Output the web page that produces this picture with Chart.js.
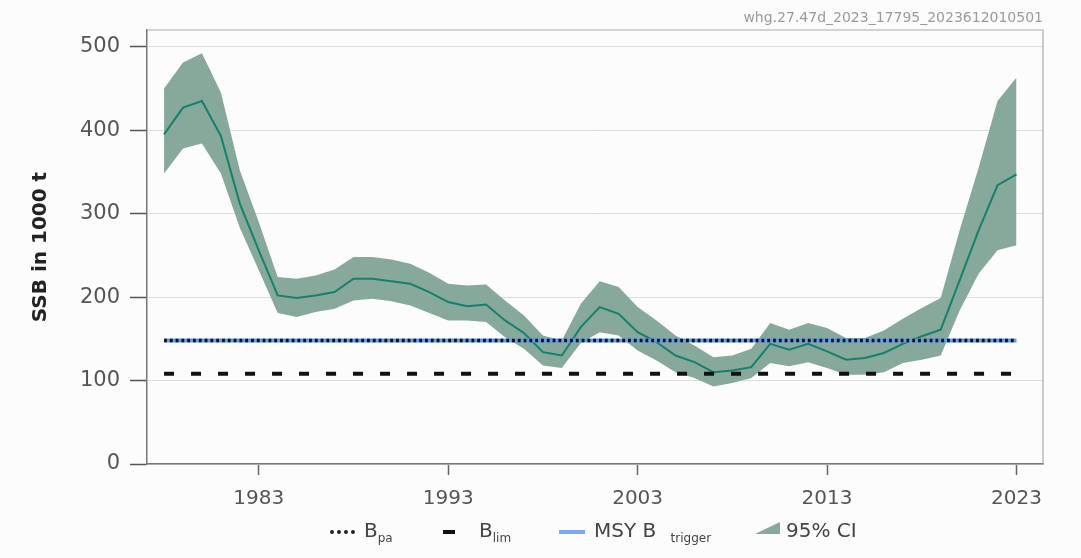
<!DOCTYPE html>
<html>
<head>
<title>SSB whg.27.47d</title>
<script src="https://cdn.jsdelivr.net/npm/chart.js"></script>
<style>
  body { margin: 0; background: #fcfcfc; font-family: "DejaVu Sans", sans-serif; }
  #wrap { position: relative; width: 1081px; height: 558px; }
  #stamp { position: absolute; right: 38px; top: 9px; font-size: 14px; color: #9a9a9a; }
  .lg { position: absolute; top: 518px; font-size: 20px; color: #444; white-space: nowrap; }
  .lg sub { font-size: 12px; vertical-align: -5px; }
  .sw { position: absolute; }
</style>
</head>
<body>
<div id="wrap">
  <canvas id="ssbChart" width="1081" height="558"></canvas>
  <div id="stamp">whg.27.47d_2023_17795_2023612010501</div>
  <!-- legend -->
  <div class="sw" style="left:330px;top:530px;width:25px;border-top:4px dotted #222;"></div>
  <div class="lg" style="left:364px;">B<sub>pa</sub></div>
  <div class="sw" style="left:443px;top:530px;width:12px;height:4px;background:#111;"></div>
  <div class="lg" style="left:479px;">B<sub>lim</sub></div>
  <div class="sw" style="left:559px;top:530px;width:26px;height:4px;background:#7aaaf2;"></div>
  <div class="lg" style="left:594px;">MSY B <sub style="margin-left:8px">trigger</sub></div>
  <div class="sw" style="left:755px;top:522px;width:25px;height:12px;background:#86a99b;clip-path:polygon(0 100%,100% 0,100% 100%);"></div>
  <div class="lg" style="left:786px;">95% CI</div>
</div>
<script>
// SSB estimates (1000 t)
var years = [1978,1979,1980,1981,1982,1983,1984,1985,1986,1987,1988,1989,1990,1991,1992,1993,
             1994,1995,1996,1997,1998,1999,2000,2001,2002,2003,2004,2005,2006,2007,2008,2009,
             2010,2011,2012,2013,2014,2015,2016,2017,2018,2019,2020,2021,2022,2023];
var ssb     = [395,427,435,393,312,256,202,199,202,206,222,222,219,216,206,194,
               189,191,172,157,134,130,164,188,180,158,146,130,122,110,112,116,
               144,137,144,135,125,127,133,144,153,161,220,280,334,347];
var ssbHigh = [450,481,492,445,352,290,224,222,226,233,248,248,245,240,229,216,
               214,215,196,178,154,148,192,219,212,188,172,154,142,128,130,138,
               169,161,169,163,151,151,160,174,187,199,280,355,435,463];
var ssbLow  = [348,378,384,348,283,232,181,176,182,186,196,198,195,190,181,172,
               172,170,152,138,118,115,145,158,154,136,124,110,103,93,97,103,
               121,117,122,115,107,107,110,121,125,130,184,228,256,262];

// reference points
var bpa = 148;
var blim = 108;
var msyBtrigger = 148;

var xTicks = [1983, 1993, 2003, 2013, 2023];
var yTicks = [0, 100, 200, 300, 400, 500];

function pts(vals) {
    return years.map(function(y, i) { return {x: y, y: vals[i]}; });
}
function flat(v) {
    return [{x: years[0], y: v}, {x: years[years.length - 1], y: v}];
}

// box around the plot (top + right edges)
var boxPlugin = {
    id: 'box',
    afterDraw: function(chart) {
        var a = chart.chartArea, ctx = chart.ctx;
        ctx.save();
        ctx.strokeStyle = '#aaa';
        ctx.lineWidth = 1.2;
        ctx.beginPath();
        ctx.moveTo(a.left, a.top);
        ctx.lineTo(a.right, a.top);
        ctx.lineTo(a.right, a.bottom);
        ctx.stroke();
        ctx.restore();
    }
};

var ctx = document.getElementById('ssbChart').getContext('2d');
var chart = new Chart(ctx, {
    type: 'line',
    data: {
        datasets: [
            { label: 'upper', data: pts(ssbHigh), borderWidth: 0, pointRadius: 0,
              backgroundColor: '#86a99b', fill: '+1', order: 5 },
            { label: 'lower', data: pts(ssbLow), borderWidth: 0, pointRadius: 0,
              backgroundColor: '#86a99b', fill: false, order: 5 },
            { label: 'SSB', data: pts(ssb), borderColor: '#17806d', borderWidth: 2,
              pointRadius: 0, fill: false, order: 3 },
            { label: 'MSY Btrigger', data: flat(msyBtrigger), borderColor: '#5e9cf2', borderWidth: 4,
              pointRadius: 0, fill: false, order: 2 },
            { label: 'Bpa', data: flat(bpa), borderColor: '#111', borderWidth: 3.5, borderDash: [2.8, 3],
              borderCapStyle: 'butt', pointRadius: 0, fill: false, order: 1 },
            { label: 'Blim', data: flat(blim), borderColor: '#111', borderWidth: 4, borderDash: [10, 17],
              pointRadius: 0, fill: false, order: 1 }
        ]
    },
    options: {
        responsive: false,
        animation: false,
        layout: { padding: { left: 0, top: 30, right: 38, bottom: 0 } },
        plugins: {
            legend: { display: false },
            tooltip: { enabled: false }
        },
        scales: {
            x: {
                type: 'linear',
                min: 1977.1,
                max: 2024.4,
                afterBuildTicks: function(s) { s.ticks = xTicks.map(function(v) { return {value: v}; }); },
                afterFit: function(s) { s.height = 94; },
                ticks: {
                    color: '#555',
                    font: { family: 'DejaVu Sans', size: 20 },
                    padding: 12,
                    maxRotation: 0,
                    callback: function(v) { return String(v); }
                },
                grid: { drawOnChartArea: false, tickLength: 11, tickColor: '#666', tickWidth: 1.5 },
                border: { color: '#777', width: 1.5 }
            },
            y: {
                min: 0,
                max: 520,
                afterBuildTicks: function(s) { s.ticks = yTicks.map(function(v) { return {value: v}; }); },
                afterFit: function(s) { s.width = 147; },
                ticks: {
                    color: '#555',
                    font: { family: 'DejaVu Sans', size: 21 },
                    padding: 10
                },
                grid: { color: '#dcdcdc', lineWidth: 1, tickLength: 17, tickColor: '#555', tickWidth: 1.5 },
                border: { color: '#777', width: 1.5 },
                title: {
                    display: true,
                    text: 'SSB in 1000 t',
                    color: '#222',
                    font: { family: 'DejaVu Sans', size: 20, weight: 'bold' },
                    padding: { top: 29, bottom: 0 }
                }
            }
        }
    },
    plugins: [boxPlugin]
});
</script>
</body>
</html>
